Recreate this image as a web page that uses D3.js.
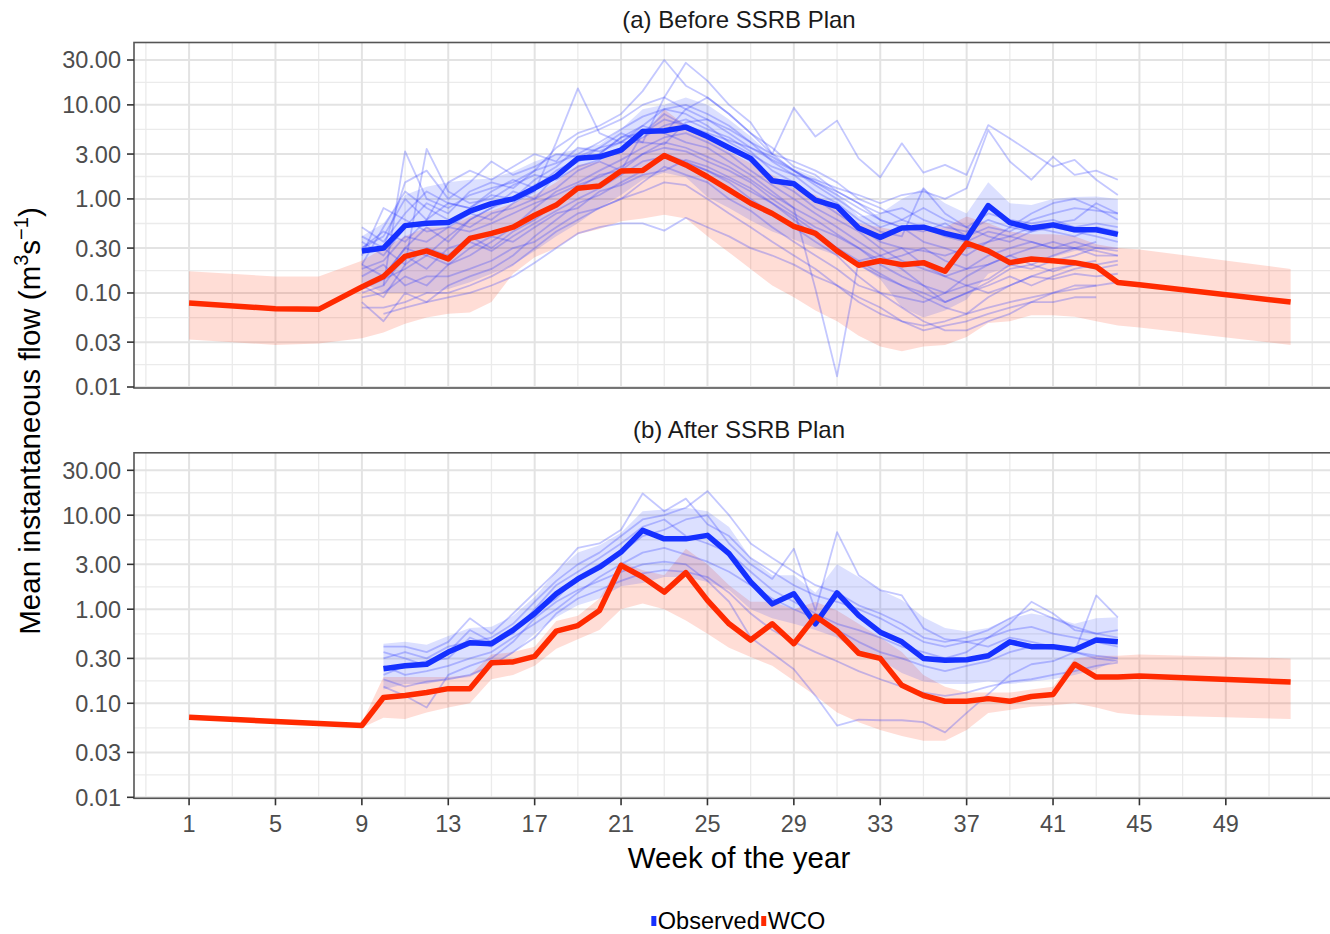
<!DOCTYPE html>
<html><head><meta charset="utf-8">
<script src="https://cdn.jsdelivr.net/npm/d3@7"></script>
<style>body{margin:0;background:#fff} text{font-family:"Liberation Sans",Arial,Helvetica,sans-serif}</style>
</head><body><svg id="c" width="1330" height="934"></svg>
<script>
// ---------- tick labels ----------
const yTicks = [0.01, 0.03, 0.1, 0.3, 1, 3, 10, 30];
const xTicks = [1, 5, 9, 13, 17, 21, 25, 29, 33, 37, 41, 45, 49];
const panelTitles = ["(a) Before SSRB Plan", "(b) After SSRB Plan"];
const seriesNames = ["Observed", "WCO"];

// ---------- (a) Before SSRB Plan ----------
const topWcoWeeks = [1,5,7,9,10,11,12,13,14,15,16,17,18,19,20,21,22,23,24,25,26,27,28,29,30,31,32,33,34,35,36,37,38,39,40,41,42,43,44,45,52];
const topWcoMean = [0.078,0.068,0.067,0.116,0.15,0.245,0.28,0.23,0.38,0.43,0.50,0.67,0.86,1.3,1.37,1.98,2.0,2.9,2.3,1.72,1.25,0.90,0.70,0.51,0.43,0.28,0.197,0.22,0.20,0.21,0.17,0.34,0.28,0.21,0.23,0.22,0.21,0.19,0.129,0.122,0.080];
const topWcoHigh = [0.17,0.15,0.15,0.22,0.3,0.4,0.5,0.5,0.65,0.75,0.9,1.1,1.5,2.3,2.5,3.5,4.5,9,6,4.3,3.2,2.4,1.8,1.3,1.1,0.8,0.55,0.5,0.45,0.5,0.5,0.65,0.55,0.45,0.42,0.42,0.4,0.33,0.3,0.29,0.18];
const topWcoLow = [0.032,0.028,0.029,0.033,0.038,0.047,0.055,0.06,0.062,0.08,0.16,0.24,0.3,0.42,0.48,0.58,0.62,0.68,0.62,0.4,0.27,0.18,0.12,0.09,0.065,0.05,0.035,0.027,0.024,0.027,0.028,0.034,0.048,0.05,0.058,0.058,0.056,0.05,0.045,0.043,0.028];

const topObsWeeks = [9,10,11,12,13,14,15,16,17,18,19,20,21,22,23,24,25,26,27,28,29,30,31,32,33,34,35,36,37,38,39,40,41,42,43,44];
const topObsMean = [0.28,0.30,0.52,0.55,0.56,0.74,0.89,1.0,1.3,1.75,2.7,2.8,3.3,5.2,5.3,5.8,4.6,3.5,2.7,1.56,1.45,0.97,0.83,0.49,0.39,0.49,0.50,0.43,0.38,0.85,0.56,0.49,0.53,0.47,0.47,0.42];
const topObsLow = [0.13,0.10,0.10,0.10,0.11,0.13,0.16,0.2,0.28,0.4,0.55,0.8,1.1,1.6,1.9,1.7,1.05,0.8,0.59,0.45,0.37,0.3,0.25,0.2,0.14,0.07,0.055,0.065,0.085,0.16,0.19,0.22,0.24,0.28,0.3,0.31];
const topObsHigh = [0.40,0.55,1.1,1.35,1.5,1.6,1.65,1.95,2.5,3.0,3.4,3.8,5.5,9,10,12,10,7,4.6,2.9,2.1,1.7,1.15,0.65,0.7,1.0,1.3,0.9,0.7,1.5,0.9,0.86,1.0,1.05,1.06,1.0];

// individual years (weeks 9..44)
const topYears = [
 [0.35,0.25,0.5,0.9,0.7,1.2,1.5,1.3,2.0,3.5,5.0,6.0,8.0,14,30,16,12,8,5,3.5,2.2,1.8,1.2,0.9,0.7,0.8,0.6,0.5,0.45,0.6,0.5,0.45,0.5,0.45,0.4,0.35],
 [0.3,0.4,1.0,0.6,1.5,2.0,1.6,2.2,3.0,2.5,4.5,5.5,7,10,12,28,18,10,6.5,3.0,9.3,4.6,6.8,2.7,1.7,3.9,1.9,2.3,1.8,6.1,4.4,3.1,2.2,2.6,1.6,1.1],
 [null,0.15,0.3,0.25,0.4,0.6,0.8,1.2,1.0,1.8,2.5,3.5,4.0,6,9,8,6,4,3,2.2,1.8,1.6,1.3,1.1,0.9,1.1,1.2,1.0,1.3,5.4,2.5,1.6,2.8,1.8,2.0,1.6],
 [null,0.06,0.07,0.08,0.09,0.1,0.12,0.15,0.21,0.3,0.43,0.5,0.55,0.55,0.46,0.63,0.5,0.4,0.3,0.25,0.2,0.15,0.12,0.09,0.07,0.05,0.04,0.045,0.05,0.06,0.07,0.08,0.08,0.09,0.09,null],
 [0.2,0.15,0.3,0.5,0.35,0.6,0.8,1.0,1.4,1.8,2.5,3.0,4.5,6,5,4,3.5,2.5,1.8,1.2,0.8,0.11,0.013,0.22,0.25,0.3,0.2,0.15,0.12,0.14,0.2,0.18,0.22,0.25,0.3,0.28],
 [0.1,0.12,3.2,1.0,0.8,1.1,1.3,1.5,2.0,2.4,3.0,4.0,5.5,7.5,9,10,8,6,4,2.5,1.8,1.2,0.9,0.6,0.45,0.4,1.3,0.7,0.5,0.4,0.35,0.45,0.55,0.6,0.9,0.7],
 [0.4,0.3,0.2,3.4,1.2,0.9,1.0,1.4,1.8,1.6,2.2,2.6,3.5,4.5,6,7,5.5,4.5,3.2,2.0,1.5,1.0,0.7,0.5,0.35,0.3,0.28,0.25,0.3,0.35,0.4,0.5,0.45,0.4,0.5,0.45],
 [0.09,0.1,0.15,0.12,0.2,0.25,0.35,0.5,0.8,1.2,1.5,2.0,2.6,3.5,4.5,5,4,3,2.0,1.4,1.0,0.7,0.5,0.35,0.25,0.18,0.12,0.08,0.1,0.12,0.15,0.12,0.15,0.18,0.2,0.22],
 [0.08,0.05,0.1,0.08,0.12,0.15,0.18,0.25,0.4,0.6,0.9,1.1,1.5,2.0,3.0,2.5,2.0,1.5,1.0,0.7,0.5,0.35,0.25,0.15,0.1,0.07,0.05,0.04,0.04,0.05,0.06,0.08,0.1,0.12,0.12,0.13],
 [0.25,0.8,0.6,0.45,0.5,0.7,0.6,0.9,1.2,4.0,15,5.0,4.0,4.0,3.8,6.5,7,5,3.5,2.8,2.0,1.5,1.1,0.8,0.6,0.5,0.35,0.3,0.25,0.35,0.5,0.7,0.9,1.0,0.8,0.6],
 [0.15,0.2,0.12,0.15,0.15,0.18,0.22,0.3,0.35,0.5,0.7,0.8,1.0,1.5,2.2,1.8,1.5,1.0,0.75,0.5,0.35,0.25,0.18,0.12,0.1,0.09,0.08,0.1,0.12,0.1,0.12,0.15,0.18,0.2,0.18,0.2],
 [null,0.3,1.5,2.0,1.0,1.5,2.5,1.8,2.2,3.0,2.8,3.5,5,4,12,9,7,5.5,4.0,3.0,2.5,2.0,1.5,1.0,0.8,0.6,0.5,0.4,0.35,0.45,0.4,0.35,0.3,0.35,0.3,0.3],
 [0.12,0.09,0.2,0.3,0.25,0.4,0.3,0.45,0.6,0.9,1.3,1.8,2.0,3.0,3.5,3.2,2.5,2.0,1.5,1.0,0.7,0.5,0.4,0.3,0.2,0.15,0.12,0.1,0.15,0.2,0.25,0.2,0.25,0.3,0.25,0.25],
 [0.2,0.5,1.2,0.8,0.6,0.5,0.7,0.8,1.0,1.3,2.0,2.5,2.0,5.0,8,6,4.5,3.5,2.5,1.6,1.2,0.8,0.6,0.45,0.3,0.22,0.18,0.15,0.18,0.25,0.3,0.35,0.3,0.3,0.35,null],
 [0.07,0.07,0.08,0.1,0.1,0.12,0.15,0.2,0.3,0.45,0.6,0.8,1.0,1.2,1.5,1.4,1.0,0.7,0.5,0.35,0.25,0.18,0.12,0.08,0.06,0.05,0.045,0.05,0.06,0.07,0.08,0.09,0.1,0.11,0.12,null],
 [0.3,0.45,0.35,0.6,0.9,0.8,1.1,1.0,1.6,2.2,3.5,3.2,4.0,5.5,5,9,12,8,5,3.0,2.0,1.4,1.0,0.7,0.5,0.6,0.8,0.6,0.5,0.7,0.6,0.55,0.6,0.5,0.55,0.5],
 [0.18,0.22,0.4,0.35,0.5,0.45,0.55,0.7,0.9,1.1,1.4,1.7,2.2,3.0,4.0,3.5,2.8,2.2,1.6,1.1,0.8,0.6,0.42,0.3,0.22,0.25,0.3,0.22,0.18,0.2,0.25,0.3,0.35,0.3,0.28,0.25],
 [null,0.12,0.25,0.18,0.3,0.35,0.28,0.4,0.55,0.75,1.0,1.3,1.8,2.5,2.8,2.4,2.0,1.6,1.2,0.9,0.65,0.45,0.3,0.2,0.15,0.12,0.09,0.07,0.06,0.09,0.12,0.15,0.14,0.16,0.15,0.16],
 [0.5,0.35,0.7,1.2,0.9,0.8,1.2,1.6,1.3,2.0,2.6,3.0,4.5,5.0,7.0,6.0,5.0,4.2,3.5,2.6,2.0,1.5,1.2,0.9,0.6,0.5,0.45,0.55,0.4,0.5,0.45,0.6,0.7,0.8,0.75,0.7],
 [0.11,0.14,0.18,0.25,0.2,0.3,0.4,0.35,0.5,0.7,0.8,1.2,1.4,1.8,2.0,2.6,2.2,1.7,1.3,0.9,0.6,0.4,0.3,0.22,0.16,0.12,0.1,0.08,0.1,0.13,0.18,0.2,0.17,0.2,0.22,null]
];

// ---------- (b) After SSRB Plan ----------
const botWcoWeeks = [1,5,9,10,11,12,13,14,15,16,17,18,19,20,21,22,23,24,25,26,27,28,29,30,31,32,33,34,35,36,37,38,39,40,41,42,43,44,45,52];
const botWcoMean = [0.071,0.064,0.058,0.115,0.121,0.13,0.143,0.143,0.27,0.275,0.315,0.585,0.67,0.97,2.93,2.2,1.52,2.45,1.24,0.70,0.47,0.70,0.43,0.84,0.585,0.34,0.30,0.155,0.121,0.105,0.105,0.112,0.105,0.118,0.124,0.26,0.19,0.19,0.195,0.168];
const botWcoLow = [null,null,0.055,0.07,0.068,0.08,0.09,0.1,0.18,0.2,0.25,0.38,0.48,0.6,1.0,1.15,1.0,0.76,0.55,0.39,0.31,0.25,0.174,0.12,0.08,0.063,0.052,0.045,0.04,0.04,0.052,0.079,0.085,0.092,0.095,0.1,0.09,0.079,0.075,0.068];
const botWcoHigh = [null,null,0.062,0.19,0.19,0.19,0.19,0.2,0.33,0.35,0.4,0.75,0.85,1.3,3.2,2.6,2.3,4.4,3.0,1.8,1.2,1.2,1.0,1.2,0.97,0.7,0.5,0.35,0.2,0.15,0.13,0.13,0.13,0.14,0.15,0.3,0.32,0.32,0.33,0.30];

const botObsWeeks = [10,11,12,13,14,15,16,17,18,19,20,21,22,23,24,25,26,27,28,29,30,31,32,33,34,35,36,37,38,39,40,41,42,43,44];
const botObsMean = [0.233,0.25,0.26,0.35,0.44,0.43,0.6,0.9,1.46,2.1,2.8,4.05,6.9,5.6,5.6,6.1,3.9,1.95,1.14,1.46,0.70,1.49,0.86,0.57,0.45,0.30,0.286,0.29,0.32,0.45,0.40,0.40,0.37,0.47,0.45];
const botObsLow = [0.14,0.16,0.16,0.18,0.19,0.25,0.34,0.55,0.82,1.1,1.3,1.75,1.9,2.2,2.2,1.95,1.6,1.0,0.8,0.7,0.6,0.5,0.34,0.29,0.21,0.17,0.16,0.16,0.17,0.16,0.17,0.18,0.2,0.23,0.29];
const botObsHigh = [0.43,0.45,0.42,0.52,0.63,0.65,0.85,1.35,2.5,4.0,4.8,6.5,11,11.5,12,11,7.5,3.5,2.3,2.3,1.5,3.0,2.2,1.6,1.25,0.82,0.63,0.58,0.63,0.8,0.9,0.82,0.7,0.8,0.82];

// individual years (weeks 10..44)
const botYears = [
 [0.3,0.35,0.3,0.4,0.45,0.5,0.7,1.2,2.0,3.0,4.0,6.0,9,10,12,18,10,5,3.5,2.5,1.8,1.5,1.1,0.9,0.7,0.5,0.45,0.5,0.6,0.8,1.0,0.8,0.65,0.55,0.5],
 [0.4,0.4,0.35,0.45,0.8,0.55,0.9,1.5,2.5,4.5,5.0,7,17,11,15,8,6,3.5,2.5,1.8,1.4,1.2,1.0,0.8,0.6,0.45,0.4,0.45,0.5,0.6,0.65,0.55,0.5,0.45,0.4],
 [0.2,0.25,0.28,0.3,0.5,0.4,0.6,0.9,1.3,2.2,3.0,4.0,6,7,9,10,5,3.0,2.1,4.4,0.97,6.6,2.3,1.6,1.4,0.63,0.48,0.45,0.4,0.5,0.45,0.4,0.35,0.32,0.3],
 [0.15,0.12,0.09,0.2,0.25,0.3,0.45,0.8,1.2,1.6,2.0,2.5,3.0,3.2,3.0,2.0,1.2,0.5,0.34,0.23,0.12,0.058,0.067,0.066,0.066,0.063,0.049,0.079,0.125,0.2,0.26,0.28,0.35,1.4,0.82],
 [0.25,0.2,0.22,0.25,0.3,0.35,0.5,0.7,1.0,1.5,2.2,3.0,4.0,4.5,3.8,3.2,2.5,1.8,1.3,1.0,0.8,0.6,0.45,0.35,0.3,0.25,0.22,0.25,0.28,0.35,0.4,0.38,0.35,0.3,0.28],
 [0.18,0.15,0.17,0.18,0.2,0.25,0.35,0.5,0.9,1.3,1.6,2.0,2.4,2.6,2.5,2.2,1.5,0.9,0.6,0.45,0.35,0.28,0.22,0.18,0.15,0.13,0.12,0.13,0.15,0.17,0.18,0.2,0.22,0.25,0.27],
 [0.35,0.3,0.25,0.35,0.6,0.45,0.55,1.0,1.8,2.5,3.5,5,7.5,9,6,5,4,2.5,1.6,1.2,0.9,0.7,0.6,0.5,0.4,0.35,0.3,0.35,0.5,0.7,1.2,0.9,0.6,0.55,0.6]
];

// ---------- drawing ----------
const BLUE = "#1530ff", RED = "#ff2a00";
const svg = d3.select("#c");
const x = d3.scaleLinear().domain([-1.55, 54.55]).range([134, 1345.7]);
const panels = [
  {title: panelTitles[0], top: 42.5, bottom: 388, wW: topWcoWeeks, wM: topWcoMean, wL: topWcoLow, wH: topWcoHigh,
   oW: topObsWeeks, oM: topObsMean, oL: topObsLow, oH: topObsHigh, years: topYears, xaxis: false},
  {title: panelTitles[1], top: 452.8, bottom: 798.3, wW: botWcoWeeks, wM: botWcoMean, wL: botWcoLow, wH: botWcoHigh,
   oW: botObsWeeks, oM: botObsMean, oL: botObsLow, oH: botObsHigh, years: botYears, xaxis: true}
];

panels.forEach(p => {
  const y = d3.scaleLog().domain([0.00976, 46.05]).range([p.bottom, p.top]);
  const g = svg.append("g");
  // grid
  const minorY = yTicks.slice(1).map((t, i) => Math.sqrt(t * yTicks[i]));
  g.selectAll(".gym").data(minorY).join("line")
    .attr("x1", 134).attr("x2", 1330).attr("y1", d => y(d)).attr("y2", d => y(d))
    .attr("stroke", "#ebebeb").attr("stroke-width", 1.3);
  const gridX = d3.range(-1, 55, 2);
  g.selectAll(".gx").data(gridX).join("line")
    .attr("x1", d => x(d)).attr("x2", d => x(d)).attr("y1", p.top).attr("y2", p.bottom)
    .attr("stroke", d => xTicks.includes(d) ? "#e3e3e3" : "#ebebeb")
    .attr("stroke-width", d => xTicks.includes(d) ? 2 : 1.3);
  g.selectAll(".gy").data(yTicks).join("line")
    .attr("x1", 134).attr("x2", 1330).attr("y1", d => y(d)).attr("y2", d => y(d))
    .attr("stroke", "#e3e3e3").attr("stroke-width", 2);

  const pts = (ws, vs) => ws.map((w, i) => [w, vs[i]]).filter(d => d[1] != null);
  const ribbon = (ws, lo, hi) => ws.map((w, i) => [w, lo[i], hi[i]]).filter(d => d[1] != null && d[2] != null);
  const area = d3.area().x(d => x(d[0])).y0(d => y(d[1])).y1(d => y(d[2]));
  const line = d3.line().x(d => x(d[0])).y(d => y(d[1]));

  // ribbons
  g.append("path").attr("d", area(ribbon(p.wW, p.wL, p.wH)))
    .attr("fill", RED).attr("fill-opacity", 0.16);
  g.append("path").attr("d", area(ribbon(p.oW, p.oL, p.oH)))
    .attr("fill", BLUE).attr("fill-opacity", 0.15);

  // individual years
  p.years.forEach(vals => {
    g.append("path").attr("d", line(pts(p.oW, vals)))
      .attr("fill", "none").attr("stroke", "#2b3bff").attr("stroke-opacity", 0.28)
      .attr("stroke-width", 1.8).attr("stroke-linejoin", "round");
  });
  // means
  g.append("path").attr("d", line(pts(p.oW, p.oM)))
    .attr("fill", "none").attr("stroke", BLUE).attr("stroke-width", 5.5).attr("stroke-linejoin", "round");
  g.append("path").attr("d", line(pts(p.wW, p.wM)))
    .attr("fill", "none").attr("stroke", RED).attr("stroke-width", 5.5).attr("stroke-linejoin", "round");

  // border
  g.append("rect").attr("x", 134).attr("y", p.top).attr("width", 1345.7 - 134).attr("height", p.bottom - p.top)
    .attr("fill", "none").attr("stroke", "#555").attr("stroke-width", 1.6);

  // y axis
  g.selectAll(".yt").data(yTicks).join("line")
    .attr("x1", 127).attr("x2", 134).attr("y1", d => y(d)).attr("y2", d => y(d))
    .attr("stroke", "#333").attr("stroke-width", 1.6);
  g.selectAll(".yl").data(yTicks).join("text")
    .attr("x", 121).attr("y", d => y(d)).attr("dy", "0.36em").attr("text-anchor", "end")
    .attr("font-size", 23.5).attr("fill", "#4d4d4d").text(d3.format(".2f"));

  // strip title
  g.append("text").attr("x", 739).attr("y", p.top - 15).attr("text-anchor", "middle")
    .attr("font-size", 24).attr("fill", "#1a1a1a").text(p.title);

  if (p.xaxis) {
    g.selectAll(".xt").data(xTicks).join("line")
      .attr("x1", d => x(d)).attr("x2", d => x(d)).attr("y1", p.bottom).attr("y2", p.bottom + 7)
      .attr("stroke", "#333").attr("stroke-width", 1.6);
    g.selectAll(".xl").data(xTicks).join("text")
      .attr("x", d => x(d)).attr("y", p.bottom + 34).attr("text-anchor", "middle")
      .attr("font-size", 23.5).attr("fill", "#4d4d4d").text(d => d);
  }
});

// axis titles
svg.append("text").attr("x", 739).attr("y", 868).attr("text-anchor", "middle")
  .attr("font-size", 29.5).attr("fill", "#000").text("Week of the year");
const yt = svg.append("text").attr("transform", "translate(40,421) rotate(-90)")
  .attr("text-anchor", "middle").attr("font-size", 29.5).attr("fill", "#000");
yt.append("tspan").text("Mean instantaneous flow (m");
yt.append("tspan").attr("dy", -12).attr("font-size", 20).text("3");
yt.append("tspan").attr("dy", 12).text("s");
yt.append("tspan").attr("dy", -12).attr("font-size", 20).text("\u22121");
yt.append("tspan").attr("dy", 12).text(")");

// legend
const lg = svg.append("g");
const colors = [BLUE, RED];
let cx = 0;
const items = seriesNames.map((n, i) => {
  const r = lg.append("rect").attr("y", 916).attr("width", 5).attr("height", 10).attr("fill", colors[i]);
  const t = lg.append("text").attr("y", 929).attr("font-size", 23.5).attr("fill", "#000").text(n);
  return {r, t};
});
items.forEach(it => {
  it.r.attr("x", cx); cx += 6.5;
  it.t.attr("x", cx); cx += it.t.node().getComputedTextLength() + 1.5;
});
lg.attr("transform", `translate(${739 - cx / 2},0)`);
</script></body></html>
